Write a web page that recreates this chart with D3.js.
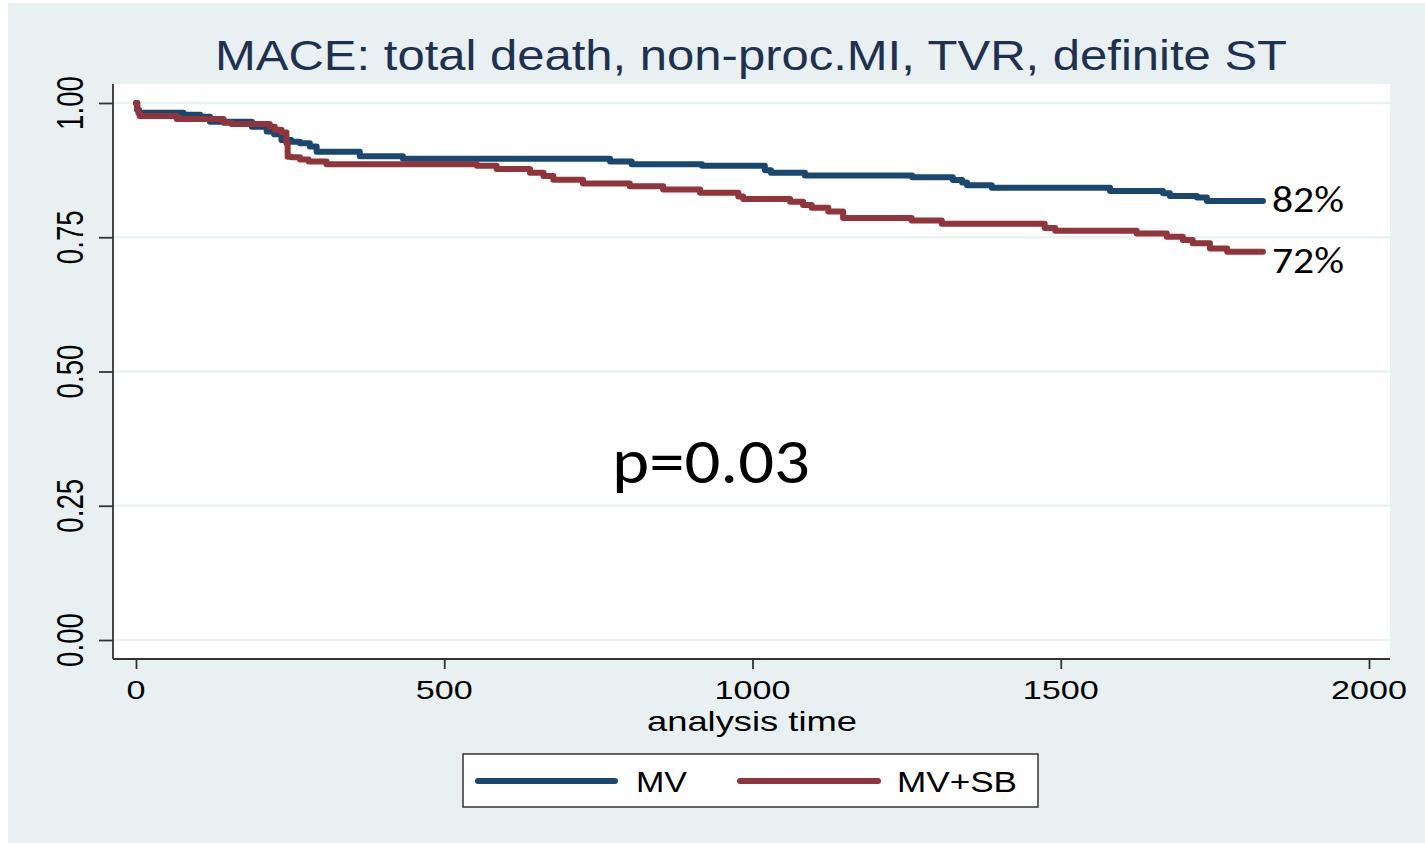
<!DOCTYPE html>
<meta charset="utf-8">
<script src="https://cdn.jsdelivr.net/npm/d3@7"></script>
<style>
    body { margin: 0; background: #fff; }
    svg { display: block; }
    .stata { font-family: "Liberation Sans", Arial, sans-serif; }
    .ppt { font-family: Calibri, Carlito, "Open Sans", sans-serif; }
</style>
<body>
<script>
    // Kaplan-Meier steps (time in days, survival)
    var mvTime = [0, 2, 5, 77, 104, 120, 188, 212, 224, 236, 252, 266, 282, 293, 363, 433, 769, 804, 918, 1020, 1030, 1085, 1259, 1325, 1340, 1348, 1388, 1580, 1666, 1677, 1721, 1737, 1828];
    var mvSurv = [1.000, 0.987, 0.982, 0.978, 0.9745, 0.965, 0.956, 0.947, 0.942, 0.931, 0.928, 0.925, 0.919, 0.909, 0.901, 0.896, 0.891, 0.886, 0.883, 0.875, 0.870, 0.865, 0.8616, 0.8566, 0.852, 0.847, 0.842, 0.836, 0.832, 0.827, 0.824, 0.8175, 0.8175];
    var sbTime = [0, 2, 4, 6, 66, 142, 155, 217, 225, 236, 244, 246, 252, 266, 280, 309, 553, 585, 639, 661, 677, 725, 801, 855, 915, 977, 985, 1061, 1082, 1096, 1123, 1147, 1258, 1307, 1474, 1491, 1623, 1672, 1698, 1714, 1742, 1770, 1828];
    var sbSurv = [1.000, 0.988, 0.981, 0.976, 0.970, 0.963, 0.961, 0.956, 0.950, 0.945, 0.925, 0.900, 0.899, 0.895, 0.891, 0.886, 0.883, 0.877, 0.870, 0.864, 0.857, 0.850, 0.845, 0.839, 0.833, 0.826, 0.821, 0.816, 0.810, 0.805, 0.798, 0.786, 0.781, 0.775, 0.767, 0.762, 0.757, 0.751, 0.745, 0.739, 0.729, 0.723, 0.723];

    var seriesNames = ["MV", "MV+SB"];
    var seriesColors = ["#1a476f", "#90353b"];
    var xTicks = [0, 500, 1000, 1500, 2000];
    var yTicks = [0, 0.25, 0.5, 0.75, 1];
    var endLabels = ["82%", "72%"];
    var title = "MACE: total death, non-proc.MI, TVR, definite ST";
    var pValue = "p=0.03";

    var W = 1425, H = 843;
    var svg = d3.select("body").append("svg").attr("width", W).attr("height", H);

    // outer panel and plot region
    svg.append("rect").attr("x", 8).attr("y", 3).attr("width", W - 8).attr("height", H - 3).attr("fill", "#e8f0f2");
    var plot = { left: 113, right: 1390, top: 84, bottom: 659 };
    svg.append("rect").attr("x", plot.left).attr("y", plot.top)
        .attr("width", plot.right - plot.left).attr("height", plot.bottom - plot.top).attr("fill", "#fff");

    var x = d3.scaleLinear().domain([0, 2000]).range([136, 1369]);
    var y = d3.scaleLinear().domain([0, 1]).range([640, 103]);

    // grid
    svg.append("g").selectAll("line").data(yTicks).join("line")
        .attr("x1", plot.left).attr("x2", plot.right)
        .attr("y1", d => y(d)).attr("y2", d => y(d))
        .attr("stroke", "#eaf2f3").attr("stroke-width", 2.5);

    // axes
    var yAxis = svg.append("g").attr("transform", "translate(" + plot.left + ",0)")
        .call(d3.axisLeft(y).tickValues(yTicks).tickSize(14).tickFormat(""));
    yAxis.select(".domain").attr("d", "M0," + plot.top + "V" + plot.bottom);
    var xAxis = svg.append("g").attr("transform", "translate(0," + plot.bottom + ")")
        .call(d3.axisBottom(x).tickValues(xTicks).tickSize(10).tickFormat(""));
    xAxis.select(".domain").attr("d", "M" + plot.left + ",0H" + plot.right);
    svg.selectAll(".domain, .tick line").attr("stroke", "#333").attr("stroke-width", 1.8);

    svg.append("g").selectAll("text").data(yTicks).join("text")
        .attr("class", "stata")
        .attr("transform", d => "translate(83," + y(d) + ") rotate(-90)")
        .attr("text-anchor", "middle").attr("font-size", 37)
        .attr("textLength", 54).attr("lengthAdjust", "spacingAndGlyphs")
        .text(d => d3.format(".2f")(d));

    svg.append("g").selectAll("text").data(xTicks).join("text")
        .attr("class", "stata")
        .attr("x", d => x(d)).attr("y", 699)
        .attr("text-anchor", "middle").attr("font-size", 26)
        .attr("textLength", d => String(d).length * 19).attr("lengthAdjust", "spacingAndGlyphs")
        .text(d => d);

    svg.append("text").attr("class", "stata")
        .attr("x", 752).attr("y", 731).attr("text-anchor", "middle").attr("font-size", 28)
        .attr("textLength", 210).attr("lengthAdjust", "spacingAndGlyphs")
        .text("analysis time");

    svg.append("text").attr("class", "stata")
        .attr("x", 215).attr("y", 70).attr("font-size", 42).attr("fill", "#1e3150")
        .attr("textLength", 1072).attr("lengthAdjust", "spacingAndGlyphs")
        .text(title);

    // curves
    var line = d3.line().x(d => x(d[0])).y(d => y(d[1])).curve(d3.curveStepAfter);
    var series = [d3.zip(mvTime, mvSurv), d3.zip(sbTime, sbSurv)];
    svg.append("g").selectAll("path").data(series).join("path")
        .attr("d", line).attr("fill", "none")
        .attr("stroke", (d, i) => seriesColors[i]).attr("stroke-width", 6)
        .attr("stroke-linecap", "round").attr("stroke-linejoin", "round");

    // end labels (the lower one sits below its line end)
    var labelDy = [11, 21];
    svg.append("g").selectAll("text").data(series).join("text")
        .attr("class", "ppt")
        .attr("x", d => x(d[d.length - 1][0]) + 9)
        .attr("y", (d, i) => y(d[d.length - 1][1]) + labelDy[i])
        .attr("font-size", 36)
        .attr("textLength", 72).attr("lengthAdjust", "spacingAndGlyphs")
        .text((d, i) => endLabels[i]);

    svg.append("text").attr("class", "ppt")
        .attr("x", 612).attr("y", 483).attr("font-size", 63)
        .attr("textLength", 198).attr("lengthAdjust", "spacingAndGlyphs")
        .text(pValue);

    // legend
    var legend = svg.append("g");
    legend.append("rect").attr("x", 463).attr("y", 754).attr("width", 575).attr("height", 53)
        .attr("fill", "#fff").attr("stroke", "#333").attr("stroke-width", 1.5);
    var legX = [[478, 615, 636, 51], [740, 878, 897, 120]];
    seriesNames.forEach(function(name, i) {
        legend.append("line").attr("x1", legX[i][0]).attr("x2", legX[i][1]).attr("y1", 781).attr("y2", 781)
            .attr("stroke", seriesColors[i]).attr("stroke-width", 6).attr("stroke-linecap", "round");
        legend.append("text").attr("class", "stata")
            .attr("x", legX[i][2]).attr("y", 792).attr("font-size", 29)
            .attr("textLength", legX[i][3]).attr("lengthAdjust", "spacingAndGlyphs")
            .text(name);
    });
</script>
